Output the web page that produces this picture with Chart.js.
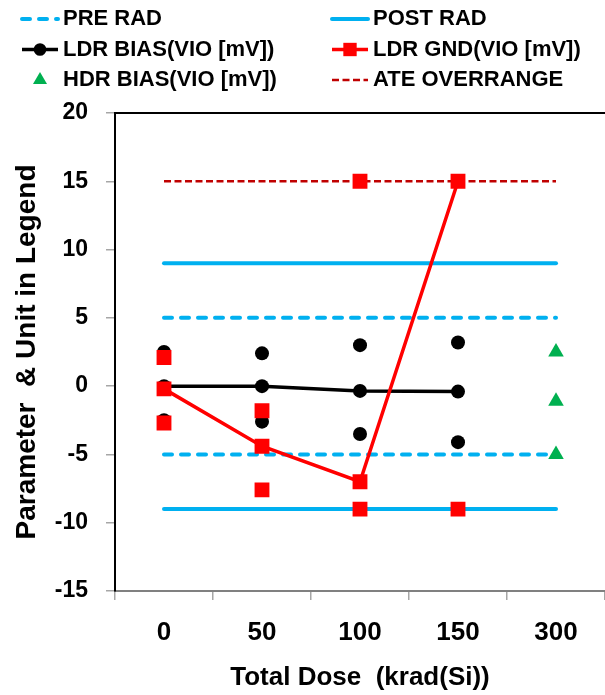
<!DOCTYPE html>
<html>
<head>
<meta charset="utf-8">
<script src="https://cdn.jsdelivr.net/npm/chart.js@4.4.1/dist/chart.umd.min.js"></script>
<style>
html, body { margin: 0; padding: 0; background: #fff; }
#wrap { width: 605px; height: 695px; }
</style>
</head>
<body>
<div id="wrap"><canvas id="doseChart" width="605" height="695"></canvas></div>
<script>
// x categories: total dose (krad(Si))
const doses = ["0", "50", "100", "150", "300"];
const yTicks = [-15, -10, -5, 0, 5, 10, 15, 20];

// limits
const preRadHigh = [5, 5, 5, 5, 5];
const preRadLow = [-5, -5, -5, -5, -5];
const postRadHigh = [9, 9, 9, 9, 9];
const postRadLow = [-9, -9, -9, -9, -9];
const ateOverrange = [15, 15, 15, 15, 15];

// LDR biased parts: median (line) and spread
const ldrBiasMid = [0, 0, -0.35, -0.4, null];
const ldrBiasHigh = [2.5, 2.4, 3.0, 3.2, null];
const ldrBiasLow = [-2.5, -2.6, -3.5, -4.1, null];

// LDR grounded parts: line and other units
const ldrGndMid = [-0.2, -4.4, -7.0, 15, null];
const ldrGndOtherA = [2.1, -1.8, 15, -9, null];
const ldrGndOtherB = [-2.7, -7.6, -9, null, null];

// HDR biased parts (300 krad only)
const hdrBiasHigh = [null, null, null, null, 2.5];
const hdrBiasMid = [null, null, null, null, -1.1];
const hdrBiasLow = [null, null, null, null, -5.0];

const FONT = '"Liberation Sans", Arial, sans-serif';
const BLUE = "#00B0F0";
const RED = "#FF0000";
const DARKRED = "#C00000";
const GREEN = "#00B050";

function marks(label, values, color, style, radius) {
    return {
        label: label,
        data: values,
        showLine: false,
        pointStyle: style,
        pointRadius: radius,
        pointBackgroundColor: color,
        pointBorderWidth: 0,
        borderColor: color,
        inLegend: false
    };
}

function limit(label, values, color, width, dash, cap) {
    return {
        label: label,
        data: values,
        borderColor: color,
        borderWidth: width,
        borderDash: dash,
        borderCapStyle: cap,
        pointRadius: 0,
        inLegend: true
    };
}

// first dataset is drawn on top
const datasets = [
    Object.assign(marks("HDR BIAS(VIO [mV])", hdrBiasHigh, GREEN, "triangle", 9), {inLegend: true}),
    marks("hdr mid", hdrBiasMid, GREEN, "triangle", 9),
    marks("hdr low", hdrBiasLow, GREEN, "triangle", 9),
    {
        label: "LDR GND(VIO [mV])",
        data: ldrGndMid,
        borderColor: RED,
        borderWidth: 3.5,
        pointStyle: "rect",
        pointRadius: 10.5,
        pointBackgroundColor: RED,
        pointBorderWidth: 0,
        inLegend: true
    },
    marks("gnd a", ldrGndOtherA, RED, "rect", 10.5),
    marks("gnd b", ldrGndOtherB, RED, "rect", 10.5),
    {
        label: "LDR BIAS(VIO [mV])",
        data: ldrBiasMid,
        borderColor: "#000",
        borderWidth: 3.5,
        pointStyle: "circle",
        pointRadius: 7,
        pointBackgroundColor: "#000",
        pointBorderWidth: 0,
        inLegend: true
    },
    marks("bias high", ldrBiasHigh, "#000", "circle", 7),
    marks("bias low", ldrBiasLow, "#000", "circle", 7),
    limit("ATE OVERRANGE", ateOverrange, DARKRED, 2.5, [7, 3.5], "butt"),
    limit("POST RAD", postRadHigh, BLUE, 4, [], "round"),
    Object.assign(limit("post low", postRadLow, BLUE, 4, [], "round"), {inLegend: false}),
    limit("PRE RAD", preRadHigh, BLUE, 4, [8, 9], "round"),
    Object.assign(limit("pre low", preRadLow, BLUE, 4, [8, 9], "round"), {inLegend: false})
];

const legendRows = [
    ["PRE RAD", "POST RAD"],
    ["LDR BIAS(VIO [mV])", "LDR GND(VIO [mV])"],
    ["HDR BIAS(VIO [mV])", "ATE OVERRANGE"]
];

function drawMarker(ctx, style, r, x, y, color) {
    ctx.fillStyle = color;
    ctx.beginPath();
    if (style === "circle") {
        ctx.arc(x, y, r, 0, Math.PI * 2);
    } else if (style === "rect") {
        const s = r * Math.SQRT1_2;
        ctx.rect(x - s, y - s, 2 * s, 2 * s);
    } else if (style === "triangle") {
        ctx.moveTo(x, y - r);
        ctx.lineTo(x + r * 0.866, y + r * 0.5);
        ctx.lineTo(x - r * 0.866, y + r * 0.5);
        ctx.closePath();
    }
    ctx.fill();
}

const frameAndLegend = {
    id: "frameAndLegend",
    beforeDatasetsDraw(chart) {
        const {ctx, chartArea} = chart;
        ctx.save();
        ctx.strokeStyle = "#000";
        ctx.lineWidth = 2;
        ctx.beginPath();
        ctx.moveTo(chartArea.left, chartArea.top);
        ctx.lineTo(chartArea.right, chartArea.top);
        ctx.stroke();
        ctx.restore();
    },
    afterDraw(chart) {
        const ctx = chart.ctx;
        const cols = [20, 330];
        ctx.save();
        legendRows.forEach((row, r) => {
            row.forEach((label, c) => {
                const ds = chart.data.datasets.find(d => d.label === label);
                const x = cols[c];
                const y = 19 + r * 30.5;
                if (ds.showLine !== false) {
                    ctx.strokeStyle = ds.borderColor;
                    ctx.lineWidth = ds.borderWidth;
                    ctx.lineCap = ds.borderCapStyle || "butt";
                    ctx.setLineDash(ds.borderDash || []);
                    ctx.beginPath();
                    ctx.moveTo(x + 2, y);
                    ctx.lineTo(x + 38, y);
                    ctx.stroke();
                    ctx.setLineDash([]);
                }
                if (ds.pointRadius > 0) {
                    drawMarker(ctx, ds.pointStyle, ds.pointRadius * 0.9, x + 20, y, ds.pointBackgroundColor);
                }
                ctx.fillStyle = "#000";
                ctx.font = "bold 22px " + FONT;
                ctx.textBaseline = "middle";
                ctx.textAlign = "left";
                ctx.fillText(label, x + 43, y);
            });
        });
        ctx.restore();
    }
};

new Chart(document.getElementById("doseChart"), {
    type: "line",
    data: {
        labels: doses,
        datasets: datasets
    },
    options: {
        responsive: false,
        animation: false,
        layout: {
            autoPadding: false,
            padding: {top: 113, left: 0, right: 0, bottom: 0}
        },
        plugins: {
            legend: {display: false},
            tooltip: {enabled: false}
        },
        scales: {
            x: {
                offset: true,
                grid: {
                    offset: true,
                    drawOnChartArea: false,
                    drawTicks: true,
                    tickLength: 9,
                    color: "#a6a6a6",
                    lineWidth: 1.5
                },
                border: {color: "#808080", width: 2},
                ticks: {
                    color: "#000",
                    padding: 17,
                    font: {family: FONT, size: 26, weight: "bold"}
                },
                title: {
                    display: true,
                    text: "Total Dose  (krad(Si))",
                    color: "#000",
                    padding: {top: 0, bottom: 2},
                    font: {family: FONT, size: 26, weight: "bold"}
                },
                afterFit(scale) {
                    scale.height = 104;
                    scale.paddingLeft = 0;
                    scale.paddingRight = 0;
                }
            },
            y: {
                min: yTicks[0],
                max: yTicks[yTicks.length - 1],
                ticks: {
                    stepSize: yTicks[1] - yTicks[0],
                    color: "#000",
                    padding: 18,
                    font: {family: FONT, size: 23, weight: "bold"}
                },
                grid: {
                    drawOnChartArea: false,
                    drawTicks: true,
                    tickLength: 9,
                    color: "#a6a6a6",
                    lineWidth: 1.5
                },
                border: {color: "#000", width: 2},
                title: {
                    display: true,
                    text: "Parameter  & Unit in Legend",
                    color: "#000",
                    padding: {top: 10, bottom: 0},
                    font: {family: FONT, size: 28, weight: "bold"}
                },
                afterFit(scale) {
                    scale.width = 115;
                }
            }
        }
    },
    plugins: [frameAndLegend]
});
</script>
</body>
</html>
